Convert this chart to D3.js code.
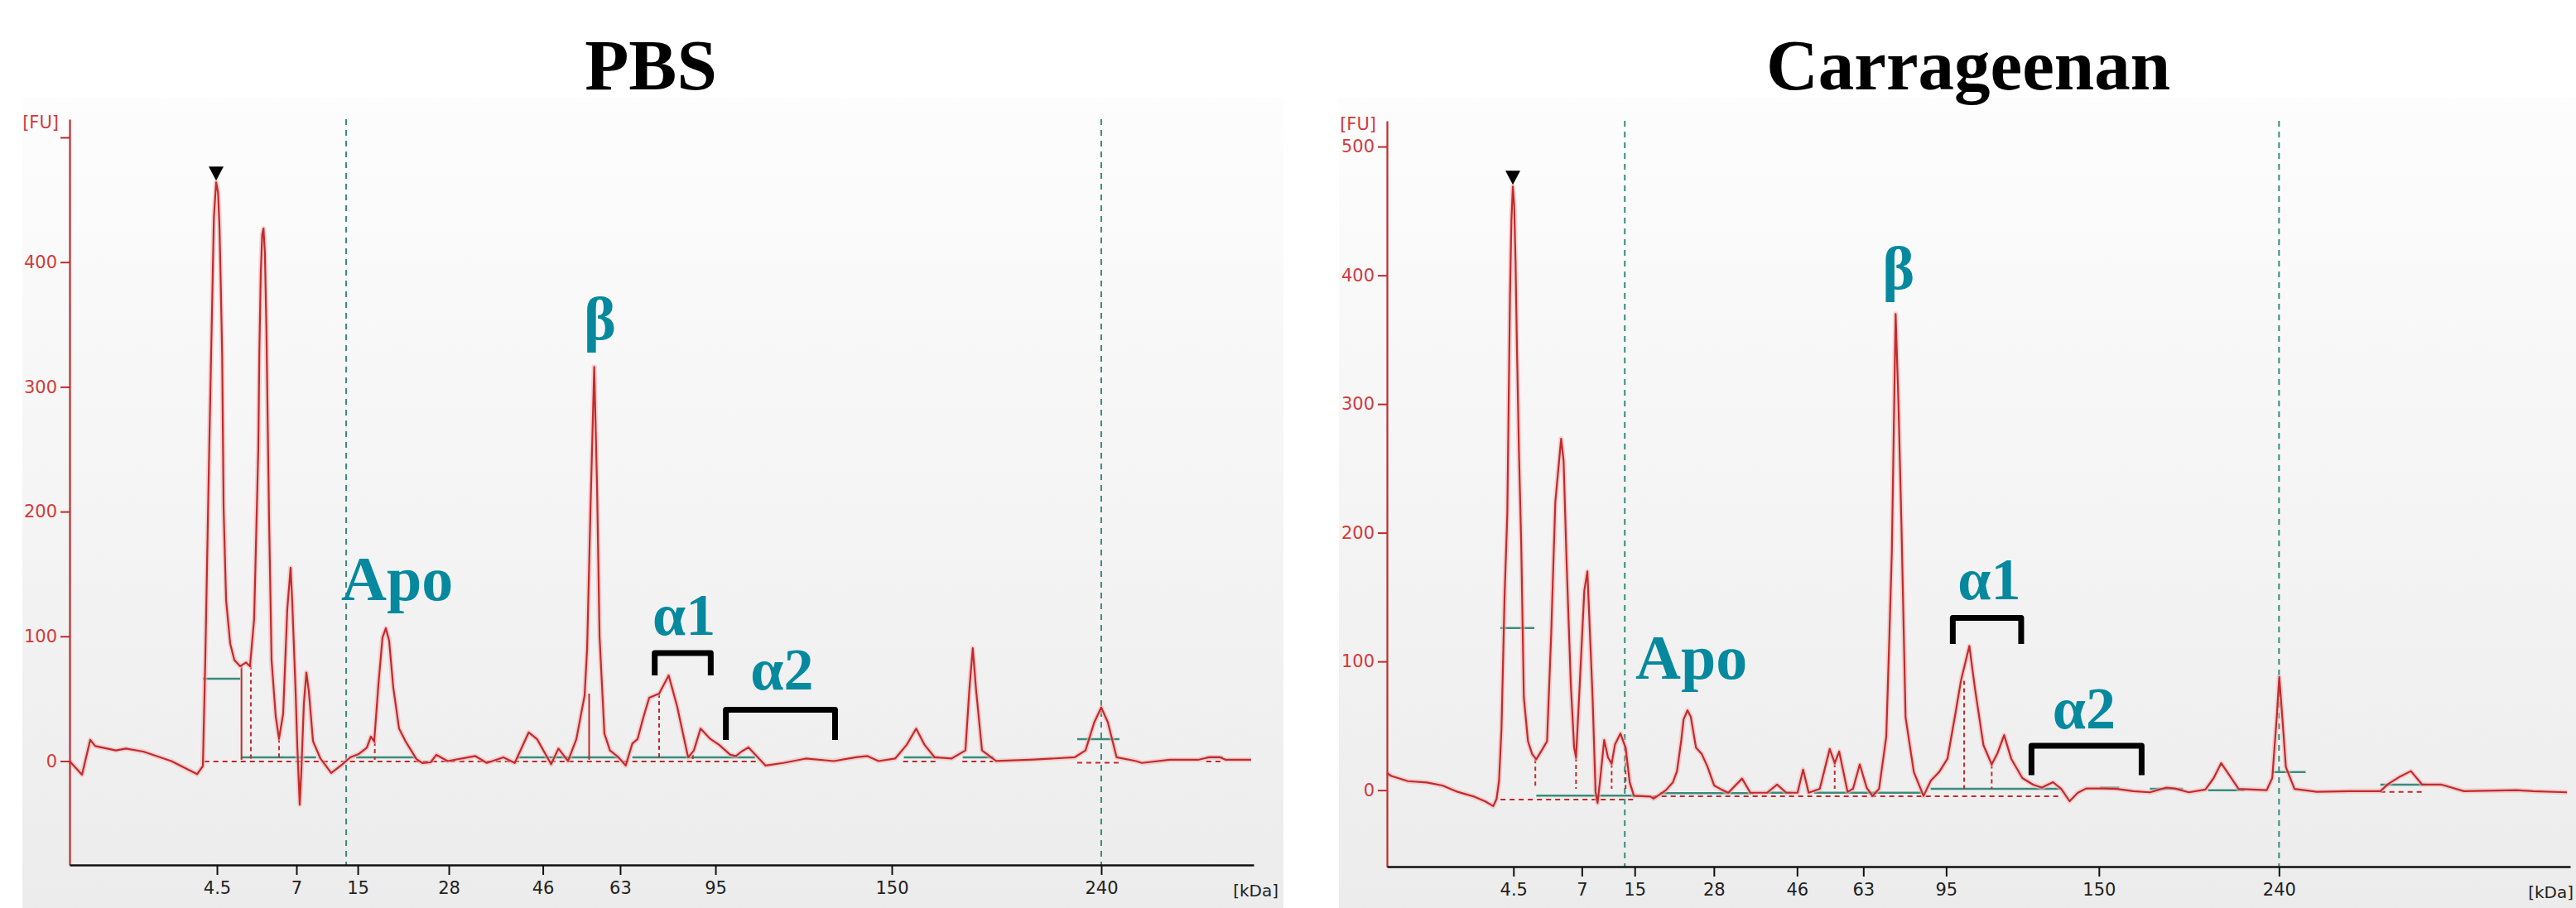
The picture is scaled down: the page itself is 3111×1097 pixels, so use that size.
<!DOCTYPE html>
<html>
<head>
<meta charset="utf-8">
<script src="https://cdn.jsdelivr.net/npm/d3@7"></script>
<style>
  body { margin: 0; background: #fff; }
  svg { display: block; }
</style>
</head>
<body>
<svg id="chart" width="3111" height="1097"></svg>
<script>
// x values are migration time in arbitrary units (0-100 across each x axis), y values in [FU]
const kdaLabels = ['4.5', '7', '15', '28', '46', '63', '95', '150', '240'];
const pbsTickTimes = [12.45, 19.16, 24.34, 32.03, 39.97, 46.5, 54.55, 69.44, 87.13];
const carTickTimes = [10.69, 16.47, 20.94, 27.63, 34.66, 40.26, 47.26, 60.17, 75.39];
const fuTicks = [0, 100, 200, 300, 400, 500];

const pbsTrace = [[0,0],[1.05,-11],[1.75,17],[2.17,12],[3.92,8.5],[4.76,10],[6.22,7.6],[8.6,0],[10.77,-10.5],[11.26,-4],
  [11.47,84],[11.75,228],[12.08,384],[12.19,436],[12.38,464],[12.54,456],[12.66,429],[12.77,383],[12.89,324],[13.01,203],
  [13.22,129],[13.57,94],[13.92,81],[14.41,76],[14.9,79],[15.24,76],[15.59,114],[15.94,250],[16.03,328],[16.15,391],
  [16.27,422],[16.38,427],[16.5,407],[16.62,349],[16.85,195],[17.06,81],[17.41,36],[17.69,18],[18.04,38],[18.39,122],
  [18.67,155],[18.81,127],[19.09,56],[19.23,13],[19.44,-35],[19.58,-7],[19.79,46],[20.0,71],[20.21,56],[20.56,16],
  [21.19,2],[22.1,-9.6],[23.0,-3],[23.71,3],[24.41,5.6],[25.1,10.6],[25.45,19.6],[25.73,15.6],[26.08,61],[26.43,99],
  [26.71,106.5],[26.99,96.5],[27.34,59],[27.83,26],[28.39,15.6],[28.88,8],[29.3,1.6],[29.79,-1.6],[30.49,-1],[30.98,5],
  [31.93,0],[34.27,4],[35.24,-1.5],[36.64,3],[37.6,-1.5],[38.78,23],[39.49,17.5],[40.67,-2.5],[41.29,10],[42.1,0],
  [42.8,17.5],[43.5,52.7],[43.71,90],[43.99,200],[44.31,316],[44.55,220],[44.76,100],[45.17,22],[45.64,8.5],[46.36,3],
  [46.97,-3.6],[47.53,14],[47.97,17.6],[48.46,35],[48.95,50.7],[49.79,54],[50.6,68.7],[51.31,44],[52.24,3],[52.73,8.5],
  [53.29,26],[54.13,17.6],[54.86,13],[55.8,5],[56.28,4],[56.75,7.6],[57.34,11],[58.03,4],[58.78,-3.6],[60.28,-1.5],
  [62.17,2],[64.55,0],[66.43,3],[67.39,4],[68.32,0],[69.72,2],[70.7,13],[71.5,26],[72.21,13],[73.06,3],
  [74.48,2],[75.66,8.5],[75.99,57],[76.28,90.5],[76.56,57],[77.06,8.5],[78.25,0],[81.1,1],[84.88,3],[85.8,8.5],
  [86.54,31],[87.13,43],[87.69,31],[88.43,3],[90.07,0],[90.56,-1.5],[92.92,1],[95.29,1],[96.22,3],[97.17,3],
  [97.65,1],[99.78,1]];

const carTrace = [[0,13.3],[0.37,11],[1.77,7],[3.38,6],[4.69,3.6],[5.97,-1.3],[7.37,-5],[8.28,-8.6],[8.98,-12.4],[9.26,-7],
  [9.47,7],[9.68,47.6],[9.94,150],[10.17,214],[10.29,303],[10.4,385],[10.52,443],[10.64,469],[10.75,455],[10.87,410],
  [10.99,342],[11.15,265],[11.34,195],[11.57,72],[11.92,38],[12.27,28],[12.62,24],[13.09,31],[13.53,38],[13.88,121],
  [14.23,224],[14.72,273],[14.93,256],[15.19,175],[15.54,82],[15.82,33],[15.98,25.5],[16.24,72],[16.68,155],[16.94,170],
  [17.03,150],[17.38,72],[17.63,-1.3],[17.8,-10],[18.05,11],[18.36,39],[18.68,25.5],[18.99,20.6],[19.27,35.4],[19.73,44],
  [20.17,33],[20.52,6],[20.87,-4.3],[22.27,-5],[22.53,-6.6],[22.97,-3.9],[23.58,0],[24.16,6],[24.51,14.6],[24.86,37.7],
  [25.07,55],[25.4,62],[25.68,57],[26.12,33],[26.61,28],[27.08,18.5],[27.66,3.6],[28.36,0],[28.85,-2],[30.01,9],
  [30.71,-2],[32.12,-2],[32.97,4.3],[33.75,-2],[34.7,-2],[35.17,16],[35.64,-2],[36.58,1],[37.42,32],[37.84,21],
  [38.22,30],[38.93,-1.3],[39.39,1],[39.96,20],[40.54,2],[41.03,-4.5],[41.59,1],[42.2,41.6],[42.43,110],[42.67,185],
  [42.99,370],[43.23,300],[43.48,207],[43.83,56.6],[44.53,14],[45.35,-4.5],[45.96,7.3],[46.66,14],[47.37,24.4],[48.07,61],
  [48.52,85.5],[49.22,112],[49.71,78],[50.41,35],[51.11,20],[51.6,28.7],[52.16,42.8],[52.76,24.4],[53.7,9.4],[54.61,4.3],
  [55.34,2],[56.29,6.2],[56.99,1],[57.69,-8.6],[58.39,-2],[59.09,1.3],[60.28,1.3],[61.68,1],[63.08,-0.8],[64.48,-1.7],
  [65.88,2],[66.58,1.3],[67.77,-1.7],[69.17,0.5],[69.87,9.4],[70.5,21],[71.27,10.6],[71.97,1],[74.35,0],[74.82,9.4],
  [75.2,56.6],[75.41,88],[75.67,56.6],[75.97,18],[76.7,1],[78.56,-1.3],[81.36,-0.8],[83.95,-0.8],[84.65,5],[85.62,10.6],
  [86.54,14.8],[87.49,4.3],[89.14,4.3],[91.02,-0.8],[95.46,0],[96.87,-0.8],[99.73,-1.7]];

// peak table decorations: [from, to, FU]
const pbsHalfWidth = [[11.26, 14.41, 66], [85.1, 88.67, 17.6]];
const pbsBaseline = [[14.52, 20.82, 3], [24.2, 29.23, 3], [37.83, 46.36, 3], [47.53, 57.9, 3], [70.46, 73.39, 3], [75.43, 78.04, 3], [95.99, 97.41, 3]];
const pbsDashedBase = [[11.38, 58.2, 1], [70.4, 73.4, 1], [75.4, 78.0, 1], [85.1, 88.7, 0], [96.0, 97.4, 1]];
const pbsCuts = [[14.52, 76, 'solid'], [15.31, 77, 'dash'], [17.69, 18, 'dash'], [25.78, 15.6, 'dash'], [43.88, 54, 'solid'], [49.79, 54, 'dash'], [52.64, 5, 'dash']];
const carHalfWidth = [[9.59, 12.46, 126], [74.8, 77.64, 14]];
const carBaseline = [[12.62, 20.87, -4.3], [23.1, 31.0, -2.3], [32.1, 34.2, -2], [36.1, 45.25, -2], [45.95, 57.0, 1], [60.27, 61.88, 2], [64.48, 67.28, 1], [69.4, 72.46, 0], [83.95, 87.73, 4.3]];
const carDashedBase = [[9.6, 20.9, -6], [20.9, 57, -3.5], [83.95, 87.7, 0]];
const carCuts = [[12.54, 24, 'dash'], [15.98, 25.5, 'dash'], [18.99, 20.6, 'dash'], [20.17, 33, 'dash'], [37.84, 21, 'dash'], [48.78, 85, 'dash'], [51.11, 20, 'dash']];

const pbsGuides = [23.36, 87.13];
const carGuides = [20.1, 75.39];
const pbsMarker = [12.38, 464];
const carMarker = [10.64, 469];

// annotations: [text, time, FU, anchor]
const pbsLabels = [['Apo', 22.94, 129.3, 'start'], ['β', 44.79, 338, 'middle'], ['α1', 51.9, 101.4, 'middle'], ['α2', 60.17, 57.2, 'middle']];
const carLabels = [['Apo', 21.0, 86.8, 'start'], ['β', 43.23, 389.5, 'middle'], ['α1', 50.9, 148.4, 'middle'], ['α2', 58.91, 48, 'middle']];
// brackets: [from, to, FU top, FU leg end]
const pbsBrackets = [[49.42, 54.15, 86.6, 68.7], [55.43, 64.65, 41.1, 16.9]];
const carBrackets = [[47.82, 53.6, 133.9, 113.6], [54.47, 63.78, 34.5, 11.6]];

const panels = [
  { title: 'PBS', titleX: 786, trace: pbsTrace, ticks: pbsTickTimes, showTop: false,
    x0: 84, x1: 1514, yTop: 144, yBot: 1045, yDomain: [-83.3, 514.6], bg: [27, 1550],
    half: pbsHalfWidth, base: pbsBaseline, dbase: pbsDashedBase, cuts: pbsCuts,
    guides: pbsGuides, marker: pbsMarker, labels: pbsLabels, brackets: pbsBrackets },
  { title: 'Carrageenan', titleX: 2377, trace: carTrace, ticks: carTickTimes, showTop: true,
    x0: 1675, x1: 3104, yTop: 146, yBot: 1047, yDomain: [-59.4, 520], bg: [1617, 3111],
    half: carHalfWidth, base: carBaseline, dbase: carDashedBase, cuts: carCuts,
    guides: carGuides, marker: carMarker, labels: carLabels, brackets: carBrackets }
];

const svg = d3.select('#chart');
const defs = svg.append('defs');
const grad = defs.append('linearGradient').attr('id', 'bgGrad')
  .attr('x1', 0).attr('y1', 0).attr('x2', 0).attr('y2', 1);
grad.append('stop').attr('offset', '0%').attr('stop-color', '#fdfdfd');
grad.append('stop').attr('offset', '100%').attr('stop-color', '#ececec');

const red = '#c22a2c';
const green = '#3a8c7d';

panels.forEach(p => {
  const x = d3.scaleLinear().domain([0, 100]).range([p.x0, p.x1]);
  const y = d3.scaleLinear().domain(p.yDomain).range([p.yBot, p.yTop]);
  const g = svg.append('g');

  g.append('rect')
    .attr('x', p.bg[0]).attr('y', 118)
    .attr('width', p.bg[1] - p.bg[0]).attr('height', 1097 - 118)
    .attr('fill', 'url(#bgGrad)');

  svg.append('text')
    .attr('x', p.titleX).attr('y', 108)
    .attr('text-anchor', 'middle')
    .style('font-family', '"Liberation Serif", "Times New Roman", serif')
    .style('font-weight', 'bold')
    .style('font-size', '87px')
    .text(p.title);

  // green dotted guide lines
  g.selectAll('.guide').data(p.guides).enter().append('line')
    .attr('x1', d => x(d)).attr('x2', d => x(d))
    .attr('y1', p.yTop).attr('y2', p.yBot)
    .attr('stroke', green).attr('stroke-width', 2)
    .attr('stroke-dasharray', '7,6');

  // peak-table decorations
  g.selectAll('.dbase').data(p.dbase).enter().append('line')
    .attr('x1', d => x(d[0])).attr('x2', d => x(d[1]))
    .attr('y1', d => y(d[2]) + 2).attr('y2', d => y(d[2]) + 2)
    .attr('stroke', red).attr('stroke-width', 2).attr('stroke-dasharray', '6,5');
  g.selectAll('.base').data(p.base).enter().append('line')
    .attr('x1', d => x(d[0])).attr('x2', d => x(d[1]))
    .attr('y1', d => y(d[2])).attr('y2', d => y(d[2]))
    .attr('stroke', green).attr('stroke-width', 2.5);
  g.selectAll('.half').data(p.half).enter().append('line')
    .attr('x1', d => x(d[0])).attr('x2', d => x(d[1]))
    .attr('y1', d => y(d[2])).attr('y2', d => y(d[2]))
    .attr('stroke', green).attr('stroke-width', 2.5);
  g.selectAll('.cut').data(p.cuts).enter().append('line')
    .attr('x1', d => x(d[0])).attr('x2', d => x(d[0]))
    .attr('y1', d => y(d[1])).attr('y2', y(1))
    .attr('stroke', red).attr('stroke-width', 2)
    .attr('stroke-dasharray', d => d[2] === 'dash' ? '5,4' : null);

  // trace
  const line = d3.line().x(d => x(d[0])).y(d => y(d[1]));
  g.append('path').datum(p.trace)
    .attr('fill', 'none').attr('stroke', '#f2b4b4').attr('stroke-width', 6)
    .attr('stroke-opacity', 0.55).attr('stroke-linejoin', 'round')
    .attr('d', line);
  g.append('path').datum(p.trace)
    .attr('fill', 'none').attr('stroke', red).attr('stroke-width', 2.2)
    .attr('stroke-linejoin', 'round')
    .attr('d', line);

  // lower marker triangle
  const mx = x(p.marker[0]), my = y(p.marker[1]);
  g.append('path')
    .attr('d', `M${mx - 9},${my - 19}L${mx + 9},${my - 19}L${mx},${my - 2}Z`)
    .attr('fill', '#000');

  // axes
  const yAxis = g.append('g')
    .attr('transform', `translate(${p.x0},0)`)
    .call(d3.axisLeft(y).tickValues(fuTicks).tickSize(11).tickSizeOuter(0).tickPadding(4)
      .tickFormat(d => (d === 500 && !p.showTop) ? '' : d));
  yAxis.select('.domain').attr('stroke', red).attr('stroke-width', 2.2);
  yAxis.selectAll('.tick line').attr('stroke', red).attr('stroke-width', 2);
  yAxis.selectAll('.tick text')
    .attr('fill', '#d23a3a')
    .style('font-family', '"DejaVu Sans", sans-serif').style('font-size', '21px');

  const xAxis = g.append('g')
    .attr('transform', `translate(0,${p.yBot})`)
    .call(d3.axisBottom(x).tickValues(p.ticks).tickSize(12).tickSizeOuter(0).tickPadding(8)
      .tickFormat((d, i) => kdaLabels[i]));
  xAxis.select('.domain').attr('stroke', '#111').attr('stroke-width', 2.5);
  xAxis.selectAll('.tick line').attr('stroke', '#111').attr('stroke-width', 2);
  xAxis.selectAll('.tick text')
    .attr('fill', '#222')
    .style('font-family', '"DejaVu Sans", sans-serif').style('font-size', '21px');

  g.append('text')
    .attr('x', p.x0 - 13).attr('y', p.yTop + 11)
    .attr('text-anchor', 'end')
    .attr('fill', '#d23a3a')
    .style('font-family', '"DejaVu Sans", sans-serif').style('font-size', '21px')
    .text('[FU]');
  g.append('text')
    .attr('x', Math.min(p.x1 + 30, 3108)).attr('y', p.yBot + 38)
    .attr('text-anchor', 'end')
    .attr('fill', '#222')
    .style('font-family', '"DejaVu Sans", sans-serif').style('font-size', '20px')
    .text('[kDa]');

  // annotations
  g.selectAll('.lbl').data(p.labels).enter().append('text')
    .attr('x', d => x(d[1])).attr('y', d => y(d[2]))
    .attr('text-anchor', d => d[3])
    .attr('fill', '#06899e')
    .style('font-family', '"Liberation Serif", "Times New Roman", serif')
    .style('font-weight', 'bold')
    .style('font-size', d => d[0] === 'Apo' ? '76px' : (d[0] === 'β' ? '74px' : '72px'))
    .text(d => d[0]);

  g.selectAll('.bracket').data(p.brackets).enter().append('path')
    .attr('d', d => `M${x(d[0])},${y(d[3])}L${x(d[0])},${y(d[2])}L${x(d[1])},${y(d[2])}L${x(d[1])},${y(d[3])}`)
    .attr('fill', 'none').attr('stroke', '#000').attr('stroke-width', 7)
    .attr('stroke-linejoin', 'round');
});
</script>
</body>
</html>
